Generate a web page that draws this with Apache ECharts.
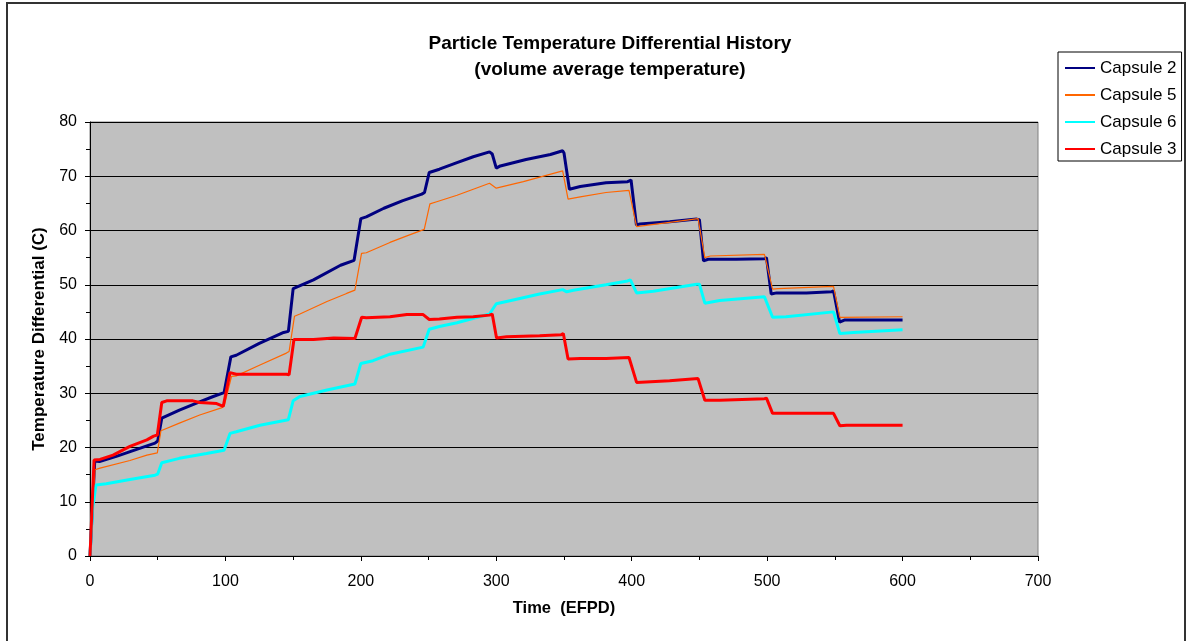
<!DOCTYPE html>
<html>
<head>
<meta charset="utf-8">
<script src="https://cdn.jsdelivr.net/npm/echarts@6/dist/echarts.min.js"></script>
<style>html,body{margin:0;padding:0;background:#fff}#c{width:1189px;height:641px}</style>
</head>
<body>
<div id="c"></div>
<script>
const seriesNames = ['Capsule 2', 'Capsule 5', 'Capsule 6', 'Capsule 3'];
const xTicks = [0, 100, 200, 300, 400, 500, 600, 700];
const yTicks = [0, 10, 20, 30, 40, 50, 60, 70, 80];

const capsule2 = [[0,0],[3.5,17.5],[7,17.4],[20,18.4],[35,19.7],[48,20.8],[50,21.2],[53,25.4],[66,26.9],[80,28.3],[91,29.4],[99,30.1],[104,36.7],[108,37.0],[125,39.2],[143,41.2],[146.5,41.4],[150,49.3],[165,50.9],[185,53.6],[195,54.5],[200,62.2],[204,62.5],[217,64.1],[231,65.5],[245,66.7],[247,67.0],[250.5,70.7],[258,71.3],[271,72.5],[283,73.6],[295,74.5],[297,74.1],[300,71.5],[303,71.9],[322,73.1],[340,74.0],[349,74.7],[350,74.3],[354,67.6],[362,68.1],[381,68.8],[397,69.0],[399.5,69.3],[403.5,61.0],[406,61.2],[428,61.6],[448,62.1],[450,62.0],[453,54.4],[456.5,54.7],[477,54.7],[498,54.8],[499.5,55.0],[503,48.3],[507,48.5],[529,48.5],[547.5,48.7],[549,48.9],[553.5,43.1],[557,43.5],[600,43.5]];
const capsule5 = [[0,0],[3.7,15.9],[7.4,16.2],[29.5,17.6],[42,18.6],[49.7,19.0],[52.4,23.1],[66,24.5],[81,26.0],[97,27.3],[99,27.6],[104.5,33.1],[108,33.2],[125.5,35.2],[145,37.4],[147,37.7],[151,44.2],[155,44.6],[175,46.9],[189.5,48.4],[195.6,49.0],[200.5,55.8],[204,55.9],[221.5,57.8],[234,59.0],[246.8,60.2],[251,64.9],[256,65.3],[271,66.5],[283,67.6],[295,68.7],[300,67.8],[320,69.0],[349,71.0],[353,65.8],[362,66.2],[381,67.0],[398,67.4],[399,67.6],[403.6,60.7],[428,61.5],[449,62.2],[454,55.0],[458,55.3],[498,55.6],[504,49.2],[508,49.3],[549,49.7],[553.7,44.0],[600,44.1]];
const capsule6 = [[0,0],[2,9],[4.4,13.1],[12,13.3],[29.5,14.1],[48,14.9],[50,15.1],[53,17.2],[66,18.0],[86,18.9],[99,19.5],[103.4,22.6],[108,22.9],[125.5,24.1],[146.4,25.1],[150,28.6],[155,29.4],[175,30.6],[195.6,31.7],[200,35.5],[209,36.0],[221.5,37.2],[246,38.5],[250.5,41.8],[258,42.3],[271,43.0],[295,44.6],[300,46.5],[312.5,47.2],[332,48.3],[349,49.1],[352,48.7],[357,49.0],[381,50.0],[397,50.7],[399,50.9],[403.6,48.5],[416,48.8],[448,50.1],[450,50.1],[454,46.6],[465,47.1],[498,47.8],[504,44.0],[514,44.1],[549,45.0],[553.7,41.0],[564,41.2],[600,41.7]];
const capsule3 = [[0,0],[3,17.7],[7.4,17.8],[17,18.6],[29.5,20.2],[42,21.4],[47,22.1],[49.7,22.3],[53,28.3],[56.6,28.6],[76,28.6],[81,28.3],[93.5,28.1],[98.4,27.6],[103.4,33.8],[108,33.5],[145,33.5],[147,33.4],[150.6,39.9],[165,39.9],[180,40.2],[195.6,40.1],[200.6,44.0],[204,43.9],[221.5,44.1],[234,44.5],[246,44.5],[250.5,43.6],[258,43.7],[271,44.0],[283,44.1],[295,44.4],[297,44.6],[300.2,40.2],[307.6,40.4],[332,40.6],[348,40.8],[349.5,41.0],[353,36.3],[362,36.4],[381,36.4],[398,36.6],[399,36.7],[403.6,32.0],[428,32.3],[449,32.7],[450,32.8],[454,28.7],[465,28.7],[498,29.0],[499.5,29.1],[504,26.3],[514,26.3],[549,26.3],[550,26.2],[553.7,24.0],[558.6,24.1],[600,24.1]];

const seriesData = [capsule2, capsule5, capsule6, capsule3];
const seriesColors = ['#000080', '#FF6600', '#00FFFF', '#FF0000'];
const seriesWidths = [3, 1.2, 3, 3];

const FONT = '"Liberation Sans", Arial, sans-serif';
const chart = echarts.init(document.getElementById('c'));
chart.setOption({
  animation: false,
  backgroundColor: '#ffffff',
  graphic: [{
    type: 'rect', shape: {x: 7, y: 3, width: 1178, height: 650},
    style: {fill: 'none', stroke: '#333', lineWidth: 2}, silent: true, z: -1
  }],
  title: [{
    text: 'Particle Temperature Differential History',
    left: 605, top: 29, textAlign: 'center',
    textStyle: {fontFamily: FONT, fontSize: 19, fontWeight: 'bold', color: '#000'}
  }, {
    text: '(volume average temperature)',
    left: 605, top: 55, textAlign: 'center',
    textStyle: {fontFamily: FONT, fontSize: 19, fontWeight: 'bold', color: '#000'}
  }],
  legend: {
    orient: 'vertical', left: 1058, top: 52,
    backgroundColor: '#fff', borderColor: '#000', borderWidth: 1,
    padding: [6, 5, 2, 6], itemGap: 7, itemWidth: 30, itemHeight: 14,
    itemStyle: {color: 'transparent', borderWidth: 0, opacity: 0},
    textStyle: {fontFamily: FONT, fontSize: 17, color: '#000', lineHeight: 20},
    data: seriesNames
  },
  grid: {
    left: 90, right: 151, top: 122, bottom: 85,
    show: true, backgroundColor: '#C0C0C0', borderColor: '#808080', borderWidth: 1
  },
  xAxis: {
    type: 'value', min: xTicks[0], max: xTicks[xTicks.length - 1], interval: 100,
    name: 'Time  (EFPD)', nameLocation: 'middle', nameGap: 44,
    nameTextStyle: {fontFamily: FONT, fontSize: 16.5, fontWeight: 'bold', color: '#000'},
    axisLine: {show: true, lineStyle: {color: '#000', width: 1}},
    axisTick: {show: true, inside: false, length: 5, lineStyle: {color: '#000'}},
    minorTick: {show: true, splitNumber: 2, length: 4, lineStyle: {color: '#000'}},
    axisLabel: {fontFamily: FONT, fontSize: 16, color: '#000', margin: 18},
    splitLine: {show: false}
  },
  yAxis: {
    type: 'value', min: yTicks[0], max: yTicks[yTicks.length - 1], interval: 10,
    name: 'Temperature Differential (C)', nameLocation: 'middle', nameGap: 41,
    nameTextStyle: {fontFamily: FONT, fontSize: 17, fontWeight: 'bold', color: '#000'},
    axisLine: {show: true, lineStyle: {color: '#000', width: 1}},
    axisTick: {show: true, inside: false, length: 5, lineStyle: {color: '#000'}},
    minorTick: {show: true, splitNumber: 2, length: 4, lineStyle: {color: '#000'}},
    axisLabel: {fontFamily: FONT, fontSize: 16, color: '#000', margin: 13},
    splitLine: {show: true, lineStyle: {color: '#000', width: 1}}
  },
  series: seriesNames.map((n, i) => ({
    name: n, type: 'line', data: seriesData[i], symbol: 'none', smooth: false,
    color: seriesColors[i],
    lineStyle: {color: seriesColors[i], width: seriesWidths[i]},
    z: 2 + i
  }))
});
</script>
</body>
</html>
